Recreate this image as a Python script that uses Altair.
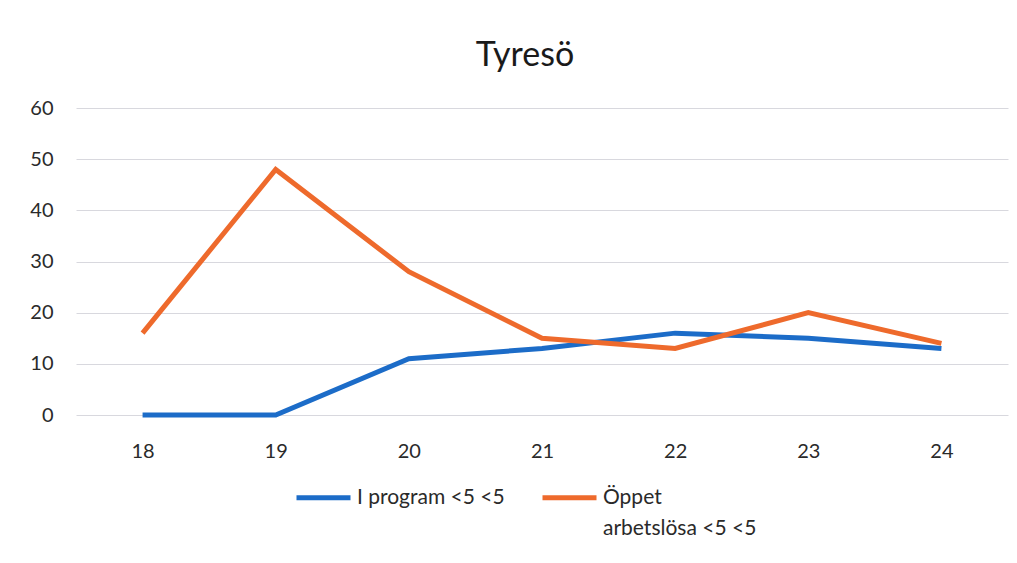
import altair as alt
import pandas as pd

ages = ["18", "19", "20", "21", "22", "23", "24"]
i_program = [0, 0, 11, 13, 16, 15, 13]
oppet = [16, 48, 28, 15, 13, 20, 14]
series_names = ["I program <5 <5", "Öppet arbetslösa <5 <5"]
colors = ["#1c6cc8", "#ee6a2c"]

rows = []
for a, v in zip(ages, i_program):
    rows.append({"age": a, "value": v, "series": series_names[0]})
for a, v in zip(ages, oppet):
    rows.append({"age": a, "value": v, "series": series_names[1]})
df = pd.DataFrame(rows)

FONT = "Lato"

chart = alt.Chart(df).mark_line(strokeWidth=5, strokeCap="butt", strokeJoin="miter").encode(
    x=alt.X("age:N", sort=ages, title=None,
            scale=alt.Scale(paddingInner=0, paddingOuter=0.5),
            axis=alt.Axis(labelAngle=0, domain=False, ticks=False, grid=False,
                          labelPadding=26, labelFontSize=20, labelColor="#2a2a2a")),
    y=alt.Y("value:Q", title=None,
            scale=alt.Scale(domain=[0, 60], nice=False),
            axis=alt.Axis(values=[0, 10, 20, 30, 40, 50, 60], domain=False, ticks=False,
                          labelPadding=23, labelFontSize=20, labelColor="#2a2a2a",
                          gridColor="#d8d8de", gridWidth=1)),
    color=alt.Color("series:N", sort=series_names,
                    scale=alt.Scale(domain=series_names, range=colors),
                    legend=alt.Legend(
                        title=None, orient="none", direction="horizontal",
                        legendX=218, legendY=360,
                        symbolType="stroke", symbolSize=2916, symbolStrokeWidth=5,
                        labelFontSize=21, labelColor="#2a2a2a", labelOffset=4,
                        columnPadding=27, labelLimit=300,
                        labelExpr="datum.value == 'Öppet arbetslösa <5 <5' ? ['Öppet', 'arbetslösa <5 <5'] : [datum.label, ' ']",
                    )),
).properties(
    width=932,
    height=307,
    title=alt.TitleParams("Tyresö", fontSize=34, font=FONT, fontWeight="normal",
                          color="#1a1a1a", anchor="middle", dx=-17, offset=25),
    autosize=alt.AutoSizeParams(type="none"),
    padding={"left": 68, "top": 100, "right": 1, "bottom": 140},
).configure(font=FONT, style={"guide-label": {"lineHeight": 31}}).configure_view(stroke=None)

chart.save("out.html", embed_options={"renderer": "svg", "actions": False})
